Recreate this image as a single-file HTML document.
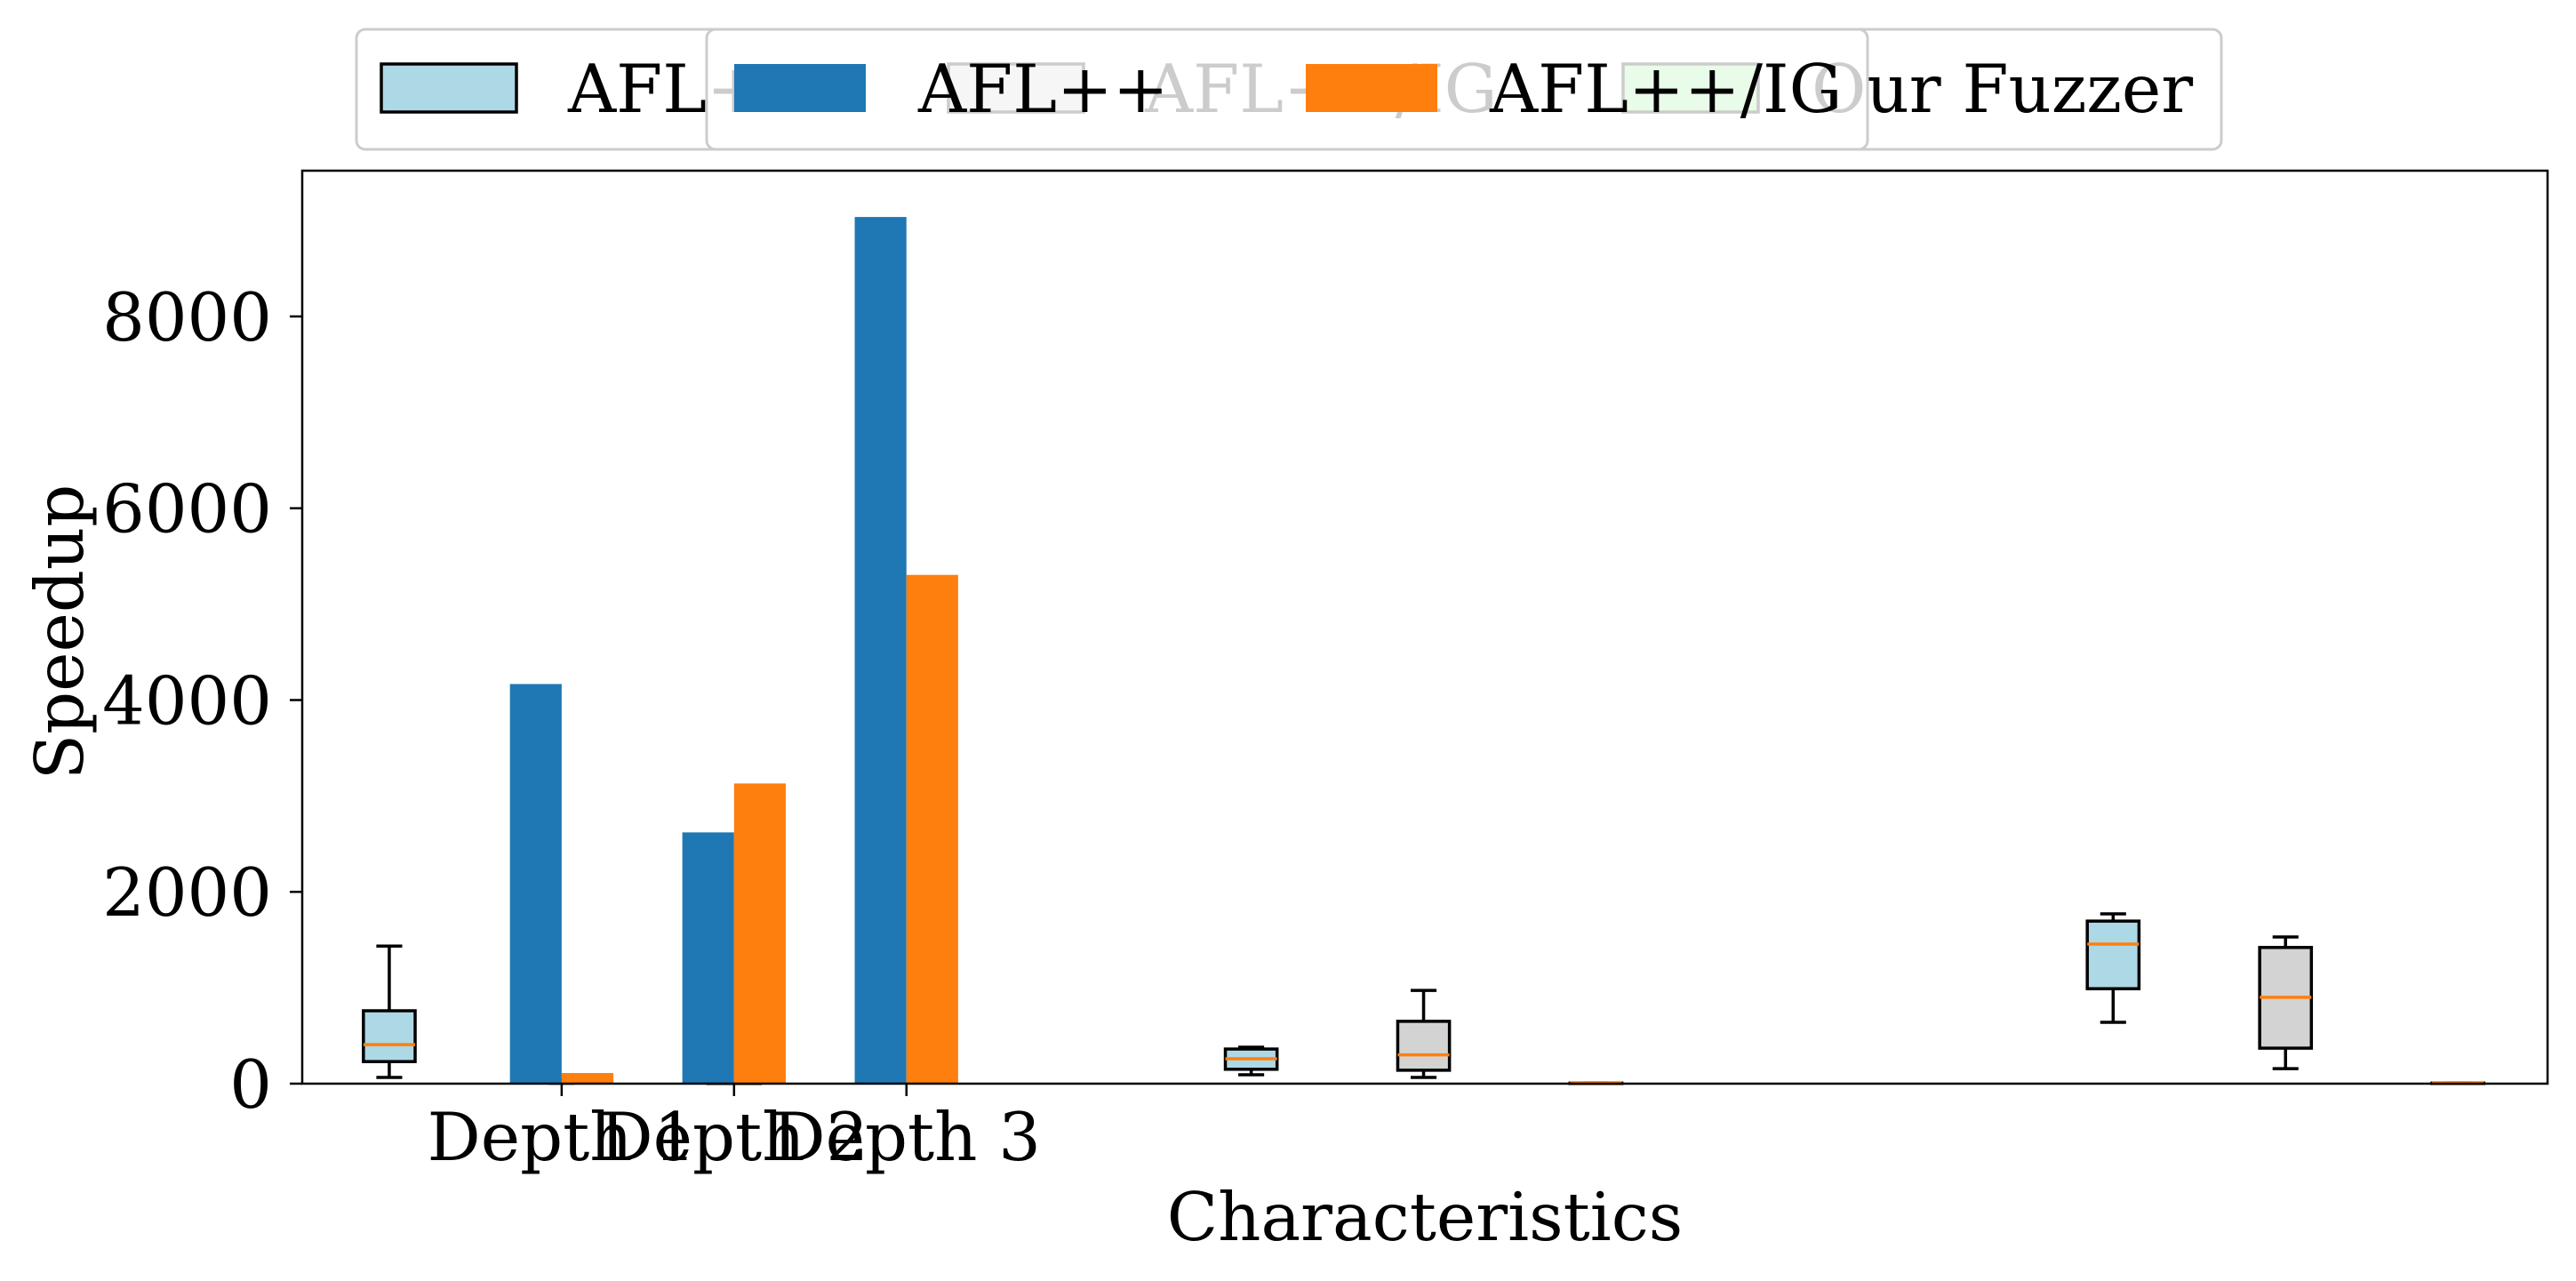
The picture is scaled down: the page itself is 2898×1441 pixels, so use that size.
<!DOCTYPE html>
<html><head><meta charset="utf-8"><style>
html,body{margin:0;padding:0;background:#fff;}
svg{display:block;font-family:"DejaVu Serif","Liberation Serif",serif;}
</style></head><body>
<svg id="chart" width="2898" height="1441" viewBox="0 0 2898 1441" xmlns="http://www.w3.org/2000/svg">
<rect width="2898" height="1441" fill="#fff"/>
<g id="plot"></g>
<g id="axes"></g>
<g id="legend1">
  <rect x="401" y="33" width="2098" height="135" rx="10" fill="#fff" stroke="#ccc" stroke-width="3"/>
  <rect x="429" y="72" width="152" height="54" fill="#add8e6" stroke="#000" stroke-width="3.5"/>
  <text x="639" y="126" font-size="75">AFL++</text>
  <rect x="1067" y="72" width="152" height="54" fill="#d3d3d3" stroke="#000" stroke-width="3.5"/>
  <text x="1288" y="126" font-size="75">AFL++/IG</text>
  <rect x="1826" y="72" width="152" height="54" fill="#90ee90" stroke="#000" stroke-width="3.5"/>
  <text x="2038" y="126" font-size="75">Our Fuzzer</text>
</g>
<g id="legend2">
  <rect x="795" y="33" width="1306" height="135" rx="10" fill="rgba(255,255,255,0.8)" stroke="#ccc" stroke-width="3"/>
  <rect x="826" y="72" width="148" height="54" fill="#1f77b4"/>
  <text x="1033" y="126" font-size="75">AFL++</text>
  <rect x="1469" y="72" width="148" height="54" fill="#ff7f0e"/>
  <text x="1676" y="126" font-size="75">AFL++/IG</text>
</g>
</svg>
<script>
const categories = ["Depth 1", "Depth 2", "Depth 3"];
const categoryPos = [1, 2, 3];
const aflppBar = [4167, 2620, 9037];
const aflppIgBar = [111, 3130, 5305];
const boxPositions = [0, 1, 2, 5, 6, 7, 10, 11, 12];
const boxGroups = ["afl", "afl-ig", "our", "afl", "afl-ig", "our", "afl", "afl-ig", "our"];
const boxLow = [65, 5, 3, 93, 65, 3, 640, 157, 3];
const boxQ1 = [230, 10, 4, 150, 140, 4, 990, 370, 4];
const boxMed = [407, 15, 5, 260, 300, 5, 1455, 900, 5];
const boxQ3 = [760, 25, 6, 361, 650, 6, 1695, 1420, 6];
const boxHigh = [1435, 35, 7, 380, 972, 7, 1770, 1530, 7];
const yTicks = [0, 2000, 4000, 6000, 8000];

const NS = "http://www.w3.org/2000/svg";
const L = 340, R = 2866, T = 192, B = 1219;
const xMin = -0.505, xMax = 12.52, yMax = 9520;
const xs = v => L + (v - xMin) / (xMax - xMin) * (R - L);
const ys = v => B - v / yMax * (B - T);
const unit = xs(1) - xs(0);
const fills = {"afl": "#add8e6", "afl-ig": "#d3d3d3", "our": "#90ee90"};
function mk(tag, attrs, parent) {
  const e = document.createElementNS(NS, tag);
  for (const k in attrs) e.setAttribute(k, attrs[k]);
  parent.appendChild(e);
  return e;
}
const plot = document.getElementById("plot");
const axes = document.getElementById("axes");

boxPositions.forEach((p, i) => {
  const g = mk("g", {}, plot);
  
  
  const cx = xs(p), hw = unit * 0.15, cw = unit * 0.075;
  mk("line", {x1: cx, x2: cx, y1: ys(boxHigh[i]), y2: ys(boxQ3[i]), stroke: "#000", "stroke-width": 3.5}, g);
  mk("line", {x1: cx, x2: cx, y1: ys(boxQ1[i]), y2: ys(boxLow[i]), stroke: "#000", "stroke-width": 3.5}, g);
  mk("line", {x1: cx - cw, x2: cx + cw, y1: ys(boxHigh[i]), y2: ys(boxHigh[i]), stroke: "#000", "stroke-width": 3.5}, g);
  mk("line", {x1: cx - cw, x2: cx + cw, y1: ys(boxLow[i]), y2: ys(boxLow[i]), stroke: "#000", "stroke-width": 3.5}, g);
  mk("rect", {x: cx - hw, y: ys(boxQ3[i]), width: 2 * hw, height: Math.max(ys(boxQ1[i]) - ys(boxQ3[i]), 0.5), fill: fills[boxGroups[i]], stroke: "#000", "stroke-width": 3.5}, g);
  mk("line", {x1: cx - hw, x2: cx + hw, y1: ys(boxMed[i]), y2: ys(boxMed[i]), stroke: "#ff7f0e", "stroke-width": 3.5}, g);
});

categoryPos.forEach((p, i) => {
  const w = unit * 0.3;
  const b1 = mk("rect", {x: xs(p) - w, y: ys(aflppBar[i]), width: w, height: ys(0) - ys(aflppBar[i]), fill: "#1f77b4"}, plot);
  
  
  const b2 = mk("rect", {x: xs(p), y: ys(aflppIgBar[i]), width: w, height: ys(0) - ys(aflppIgBar[i]), fill: "#ff7f0e"}, plot);
  
  
});

const frame = mk("rect", {x: L, y: T, width: R - L, height: B - T, fill: "none", stroke: "#000", "stroke-width": 2.5}, axes);



yTicks.forEach(v => {
  mk("line", {x1: L - 14, x2: L, y1: ys(v), y2: ys(v), stroke: "#000", "stroke-width": 2.5}, axes);
  const t = mk("text", {x: 306, y: ys(v) + 27, "text-anchor": "end", "font-size": 75}, axes);
  t.textContent = v;
  
  
});
categoryPos.forEach((p, i) => {
  mk("line", {x1: xs(p), x2: xs(p), y1: B, y2: B + 14, stroke: "#000", "stroke-width": 2.5}, axes);
  const t = mk("text", {x: xs(p), y: 1305, "text-anchor": "middle", "font-size": 75}, axes);
  t.textContent = categories[i];
  
  
});
const yl = mk("text", {x: 0, y: 0, "text-anchor": "middle", "font-size": 75, transform: "translate(93,711) rotate(-90)"}, axes);
yl.textContent = "Speedup";


const xl = mk("text", {x: 1603, y: 1395, "text-anchor": "middle", "font-size": 75}, axes);
xl.textContent = "Characteristics";


</script>
</body></html>
